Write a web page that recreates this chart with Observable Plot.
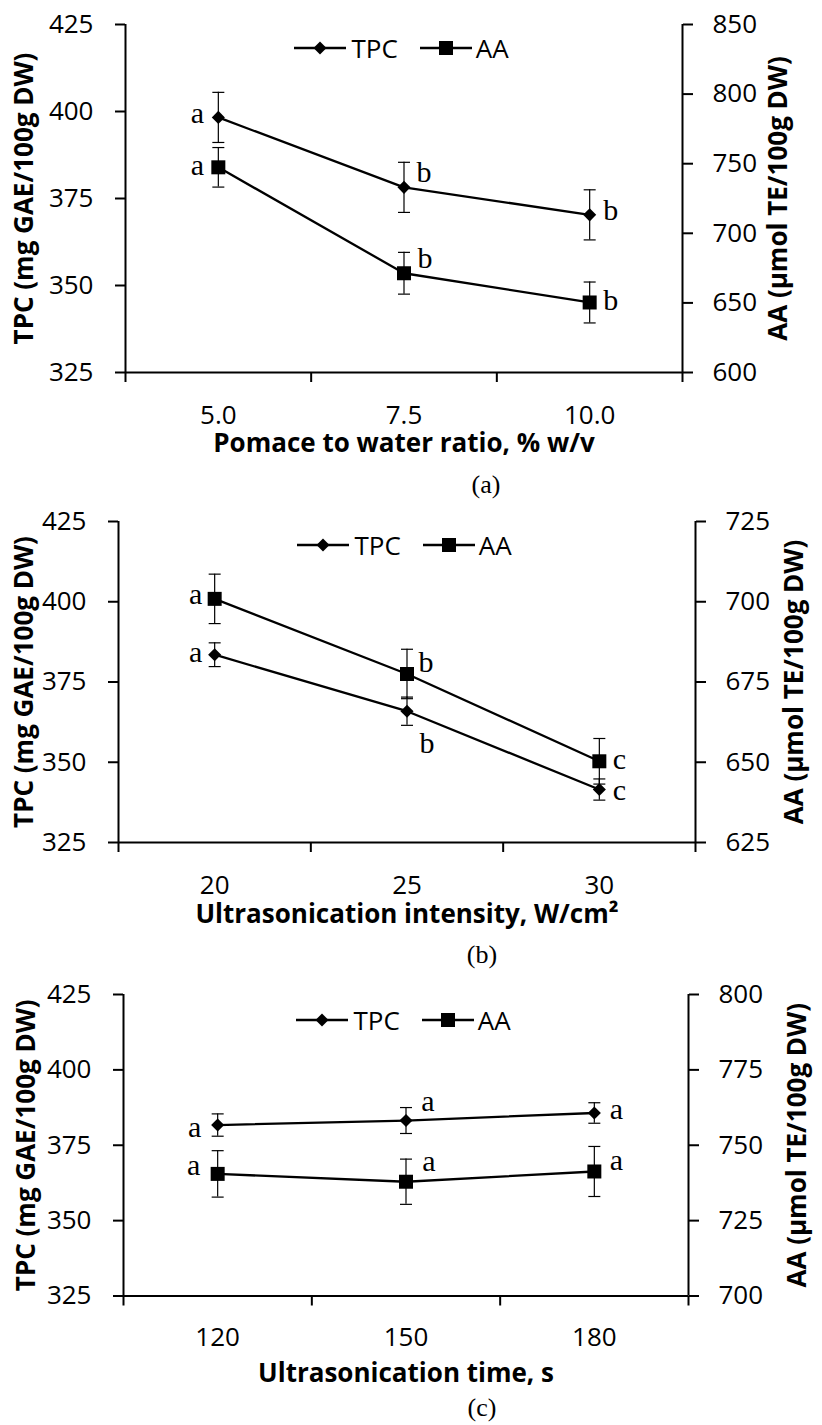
<!DOCTYPE html>
<html>
<head>
<meta charset="utf-8">
<script src="https://cdn.jsdelivr.net/npm/d3@7"></script>
<script src="https://cdn.jsdelivr.net/npm/@observablehq/plot@0.6"></script>
<style>
  body { margin: 0; background: #fff; }
  #root { position: relative; width: 822px; height: 1425px; overflow: hidden; background: #fff; }
  .panel { position: absolute; left: 0; z-index: 1; }
  .caption { position: absolute; z-index: 5; font-family: "Liberation Serif", "Times New Roman", serif; font-size: 26px; line-height: 1; transform: translate(-50%, -50%); color: #000; }
  .legend { position: absolute; z-index: 5; display: flex; align-items: center; font-family: "Open Sans", sans-serif; font-size: 26px; line-height: 1; color: #000; transform: translateY(-50%); white-space: nowrap; }
  .legend svg { display: block; }
</style>
</head>
<body>
<div id="root"></div>
<script>
// ---------------- DATA ----------------
const tpcTicks = [325, 350, 375, 400, 425];
const seriesNames = ["TPC", "AA"];
const yTitleLeft = "TPC (mg GAE/100g DW)";
const yTitleRight = "AA (\u03bcmol TE/100g DW)";

// Panel (a)
const catsA = ["5.0", "7.5", "10.0"];
const tpcA = [398.3, 378.2, 370.3];
const tpcErrA = [7.2, 7.2, 7.2];
const aaA = [747.4, 671.3, 650.3];
const aaErrA = [14.2, 15.0, 14.7];
const tpcLettersA = ["a", "b", "b"];
const aaLettersA = ["a", "b", "b"];
const aaTicksA = [600, 650, 700, 750, 800, 850];
const xTitleA = "Pomace to water ratio, % w/v";
const captionA = "(a)";

// Panel (b)
const catsB = ["20", "25", "30"];
const tpcB = [383.5, 365.9, 341.5];
const tpcErrB = [3.7, 4.4, 3.3];
const aaB = [700.9, 677.5, 650.3];
const aaErrB = [7.7, 7.7, 7.1];
const tpcLettersB = ["a", "b", "c"];
const aaLettersB = ["a", "b", "c"];
const aaTicksB = [625, 650, 675, 700, 725];
const xTitleB = "Ultrasonication intensity, W/cm\u00b2";
const captionB = "(b)";

// Panel (c)
const catsC = ["120", "150", "180"];
const tpcC = [381.7, 383.2, 385.7];
const tpcErrC = [3.7, 4.3, 3.4];
const aaC = [740.5, 737.9, 741.3];
const aaErrC = [7.7, 7.5, 8.3];
const tpcLettersC = ["a", "a", "a"];
const aaLettersC = ["a", "a", "a"];
const aaTicksC = [700, 725, 750, 775, 800];
const xTitleC = "Ultrasonication time, s";
const captionC = "(c)";

// ---------------- LAYOUT (positions / styles) ----------------
const panels = [
  {
    data: {cats: catsA, tpc: tpcA, tpcErr: tpcErrA, aa: aaA, aaErr: aaErrA, tpcL: tpcLettersA, aaL: aaLettersA, aaTicks: aaTicksA, xTitle: xTitleA, caption: captionA},
    top: 0, height: 460, mt: 24, mb: 88, ml: 125, mr: 140,
    tpcLab: [[-21, -4], [20, -15], [21, -4]],
    aaLab: [[-21, -2], [21, -15], [21, -2]],
    leftTitleDx: -101, rightTitleDx: 96, xTitleDy: 71, xTickPad: 33,
    legendY: 48, captionX: 486, captionY: 485
  },
  {
    data: {cats: catsB, tpc: tpcB, tpcErr: tpcErrB, aa: aaB, aaErr: aaErrB, tpcL: tpcLettersB, aaL: aaLettersB, aaTicks: aaTicksB, xTitle: xTitleB, caption: captionB},
    top: 470, height: 460, mt: 51, mb: 88, ml: 118, mr: 127,
    tpcLab: [[-19, -2], [20, 32], [20, 1]],
    aaLab: [[-19, -4], [19, -12], [20, -2]],
    leftTitleDx: -94, rightTitleDx: 99, xTitleDy: 72, xTickPad: 33,
    legendY: 545, captionX: 482, captionY: 955
  },
  {
    data: {cats: catsC, tpc: tpcC, tpcErr: tpcErrC, aa: aaC, aaErr: aaErrC, tpcL: tpcLettersC, aaL: aaLettersC, aaTicks: aaTicksC, xTitle: xTitleC, caption: captionC},
    top: 940, height: 445, mt: 54, mb: 89.5, ml: 123, mr: 134,
    tpcLab: [[-23, 2], [22, -19], [22, -4]],
    aaLab: [[-24, -9], [23, -20], [22, -11]],
    leftTitleDx: -97, rightTitleDx: 109, xTitleDy: 78, xTickPad: 31.5,
    legendY: 1020, captionX: 482, captionY: 1408
  }
];

const W = 822;
const capSymbol = {
  draw(context, size) {
    const r = Math.sqrt(size / Math.PI);
    context.moveTo(-r, 0);
    context.lineTo(r, 0);
  }
};

const root = document.getElementById("root");

function buildPanel(cfg) {
  const d = cfg.data;
  const aaMin = d.aaTicks[0], aaMax = d.aaTicks[d.aaTicks.length - 1];
  const yMin = tpcTicks[0], yMax = tpcTicks[tpcTicks.length - 1];
  const toL = v => yMin + (v - aaMin) * (yMax - yMin) / (aaMax - aaMin);
  const fromL = v => aaMin + (v - yMin) * (aaMax - aaMin) / (yMax - yMin);
  const n = d.cats.length;

  const tpc = d.tpc.map((v, i) => ({x: i + 0.5, y: v, lo: v - d.tpcErr[i], hi: v + d.tpcErr[i], lab: d.tpcL[i], dx: cfg.tpcLab[i][0], dy: cfg.tpcLab[i][1]}));
  const aa = d.aa.map((v, i) => ({x: i + 0.5, y: toL(v), lo: toL(v - d.aaErr[i]), hi: toL(v + d.aaErr[i]), lab: d.aaL[i], dx: cfg.aaLab[i][0], dy: cfg.aaLab[i][1]}));

  const letterMarks = [...tpc, ...aa].map(p => Plot.text([p], {
    x: "x", y: "y", text: "lab", dx: p.dx, dy: p.dy,
    fontFamily: "Liberation Serif, Times New Roman, serif", fontSize: 30, fill: "black"
  }));

  const bandEdges = d3.range(n + 1);
  const centers = d3.range(n).map(i => i + 0.5);
  const titleStyle = {fontWeight: "bold", fontSize: 26, fontFamily: "Open Sans, sans-serif", fill: "black", textAnchor: "middle", lineAnchor: "middle"};

  const chart = Plot.plot({
    width: W, height: cfg.height,
    marginTop: cfg.mt, marginBottom: cfg.mb, marginLeft: cfg.ml, marginRight: cfg.mr,
    style: {fontFamily: "Open Sans, sans-serif", fontSize: "26px", color: "black", background: "transparent", overflow: "visible"},
    x: {type: "linear", domain: [0, n]},
    y: {type: "linear", domain: [yMin, yMax]},
    marks: [
      Plot.ruleY([yMin], {stroke: "black", strokeWidth: 2}),
      Plot.ruleX([0, n], {stroke: "black", strokeWidth: 2}),
      Plot.axisY({anchor: "left", ticks: tpcTicks, tickSize: 10, tickPadding: 22, strokeWidth: 2, label: null, tickFormat: v => String(v)}),
      Plot.axisY({anchor: "right", ticks: d.aaTicks.map(toL), tickSize: 10, tickPadding: 20, strokeWidth: 2, label: null, tickFormat: v => String(Math.round(fromL(v)))}),
      Plot.axisX({ticks: bandEdges, tickSize: 10, strokeWidth: 2, label: null, tickFormat: () => ""}),
      Plot.axisX({ticks: centers, tickSize: 0, tickPadding: cfg.xTickPad, label: null, tickFormat: v => d.cats[Math.floor(v)]}),
      // error bars
      Plot.ruleX(tpc, {x: "x", y1: "lo", y2: "hi", stroke: "black", strokeWidth: 1.2}),
      Plot.ruleX(aa, {x: "x", y1: "lo", y2: "hi", stroke: "black", strokeWidth: 1.2}),
      Plot.dot(tpc, {x: "x", y: "lo", symbol: capSymbol, r: 6, stroke: "black", fill: "none", strokeWidth: 1.2}),
      Plot.dot(tpc, {x: "x", y: "hi", symbol: capSymbol, r: 6, stroke: "black", fill: "none", strokeWidth: 1.2}),
      Plot.dot(aa, {x: "x", y: "lo", symbol: capSymbol, r: 6, stroke: "black", fill: "none", strokeWidth: 1.2}),
      Plot.dot(aa, {x: "x", y: "hi", symbol: capSymbol, r: 6, stroke: "black", fill: "none", strokeWidth: 1.2}),
      // lines
      Plot.line(tpc, {x: "x", y: "y", stroke: "black", strokeWidth: 2.3}),
      Plot.line(aa, {x: "x", y: "y", stroke: "black", strokeWidth: 2.3}),
      // markers
      Plot.dot(tpc, {x: "x", y: "y", symbol: "diamond2", r: 5.9, fill: "black", stroke: "none"}),
      Plot.dot(aa, {x: "x", y: "y", symbol: "square", r: 7.9, fill: "black", stroke: "none"}),
      ...letterMarks,
      // axis titles
      Plot.text([yTitleLeft], {text: t => t, frameAnchor: "left", dx: cfg.leftTitleDx, rotate: -90, ...titleStyle}),
      Plot.text([yTitleRight], {text: t => t, frameAnchor: "right", dx: cfg.rightTitleDx, rotate: -90, ...titleStyle}),
      Plot.text([d.xTitle], {text: t => t, frameAnchor: "bottom", dy: cfg.xTitleDy, ...titleStyle})
    ]
  });

  const wrap = document.createElement("div");
  wrap.className = "panel";
  wrap.style.top = cfg.top + "px";
  wrap.appendChild(chart);
  root.appendChild(wrap);

  // legend
  const plotCenter = cfg.ml + (W - cfg.ml - cfg.mr) / 2;
  const leg = document.createElement("div");
  leg.className = "legend";
  leg.style.left = (plotCenter - 110) + "px";
  leg.style.top = cfg.legendY + "px";
  const diamond = '<polygon points="26,3.5 32.5,10 26,16.5 19.5,10" fill="black"/>';
  const square = '<rect x="19" y="3" width="14" height="14" fill="black"/>';
  leg.innerHTML =
    '<svg width="52" height="20"><line x1="0" x2="52" y1="10" y2="10" stroke="black" stroke-width="2.3"/>' + diamond + '</svg>' +
    '<span style="margin-left:6px">' + seriesNames[0] + '</span>' +
    '<svg width="52" height="20" style="margin-left:22px"><line x1="0" x2="52" y1="10" y2="10" stroke="black" stroke-width="2.3"/>' + square + '</svg>' +
    '<span style="margin-left:4px">' + seriesNames[1] + '</span>';
  root.appendChild(leg);

  const cap = document.createElement("div");
  cap.className = "caption";
  cap.style.left = cfg.captionX + "px";
  cap.style.top = cfg.captionY + "px";
  cap.textContent = d.caption;
  root.appendChild(cap);
}

panels.forEach(buildPanel);
</script>
</body>
</html>
